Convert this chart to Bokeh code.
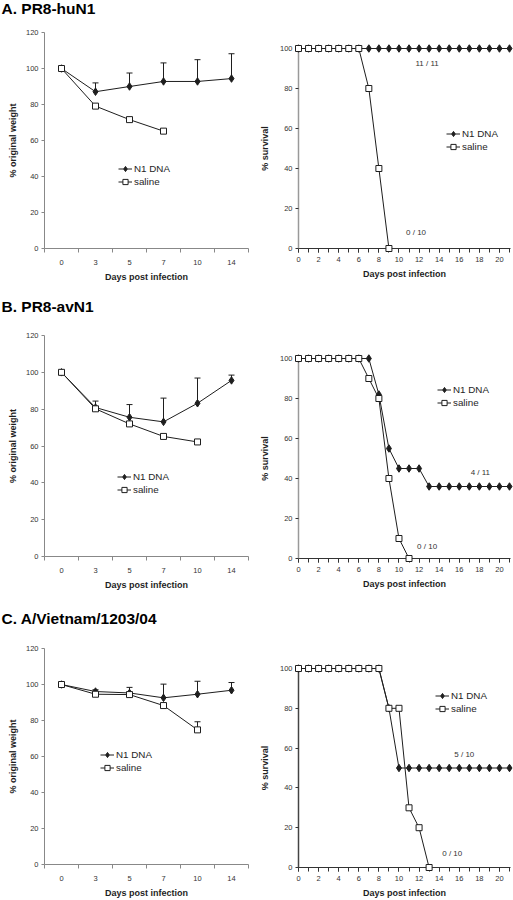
import math
from bokeh.plotting import figure
from bokeh.models import (Range1d, FixedTicker, Whisker, ColumnDataSource, Label,
                          Legend, LegendItem, TeeHead)
from bokeh.core.properties import value
from bokeh.layouts import column, row
from bokeh.embed import file_html
from bokeh.resources import INLINE

NAN = float("nan")

# ------------------------------------------------------------------ data
weight_days = ["0", "3", "5", "7", "10", "14"]
weight_yticks = [0, 20, 40, 60, 80, 100, 120]
survival_days = [0, 1, 2, 3, 4, 5, 6, 7, 8, 9, 10, 11, 12, 13, 14, 15, 16, 17, 18, 19, 20, 21]
survival_xticks = [0, 2, 4, 6, 8, 10, 12, 14, 16, 18, 20]
survival_yticks = [0, 20, 40, 60, 80, 100]
series_names = ["N1 DNA", "saline"]

titles = ["A. PR8-huN1", "B. PR8-avN1", "C. A/Vietnam/1203/04"]

# Panel A
a_n1_weight = [100, 87.1, 90.0, 92.8, 92.8, 94.4]
a_n1_sd = [NAN, 4.9, 7.5, 10.3, 12.1, 13.8]
a_sal_weight = [100, 79.1, 71.6, 65.2]
a_sal_sd = [NAN, NAN, NAN, NAN]
a_n1_surv = [100, 100, 100, 100, 100, 100, 100, 100, 100, 100, 100, 100, 100, 100, 100, 100, 100, 100, 100, 100, 100, 100]
a_sal_surv = [100, 100, 100, 100, 100, 100, 100, 80, 40, 0]
a_counts = ["11 / 11", "0 / 10"]

# Panel B
b_n1_weight = [100, 80.9, 75.6, 73.1, 83.2, 95.6]
b_n1_sd = [NAN, 3.5, 6.9, 12.9, 13.7, 2.9]
b_sal_weight = [100, 80.2, 72.0, 65.2, 62.2]
b_sal_sd = [NAN, NAN, NAN, NAN, NAN]
b_n1_surv = [100, 100, 100, 100, 100, 100, 100, 100, 82, 55, 45, 45, 45, 36, 36, 36, 36, 36, 36, 36, 36, 36]
b_sal_surv = [100, 100, 100, 100, 100, 100, 100, 90, 80, 40, 10, 0]
b_counts = ["4 / 11", "0 / 10"]

# Panel C
c_n1_weight = [100, 96.1, 95.3, 92.6, 94.6, 96.8]
c_n1_sd = [NAN, 1.0, 3.1, 7.6, 7.2, 4.3]
c_sal_weight = [100, 94.6, 94.4, 88.3, 74.8]
c_sal_sd = [NAN, NAN, NAN, NAN, 4.5]
c_n1_surv = [100, 100, 100, 100, 100, 100, 100, 100, 100, 80, 50, 50, 50, 50, 50, 50, 50, 50, 50, 50, 50, 50]
c_sal_surv = [100, 100, 100, 100, 100, 100, 100, 100, 100, 80, 80, 30, 20, 0]
c_counts = ["5 / 10", "0 / 10"]

# ------------------------------------------------------------------ style
FONT = "Liberation Sans"
INK = "#1e1e1e"
TICK_FS = "7.5px"
AXLAB_FS = "9px"
LEG_FS = "9.8px"
TITLE_FS = "15.5px"
COUNT_FS = "8px"


def make_fig(g, xr, yr):
    p = figure(width=g["W"], height=g["H"], x_range=xr, y_range=yr,
               output_backend="svg", toolbar_location=None,
               min_border_left=g["fl"], min_border_right=g["fr"],
               min_border_top=g["ft"], min_border_bottom=g["fb"])
    p.title.visible = False
    p.xgrid.visible = False
    p.ygrid.visible = False
    p.outline_line_color = None
    p.background_fill_color = "white"
    p.border_fill_color = "white"
    for ax in (p.xaxis[0], p.yaxis[0]):
        ax.major_label_text_font = FONT
        ax.major_label_text_font_size = TICK_FS
        ax.major_label_text_color = "#333333"
        ax.axis_label_text_font = FONT
        ax.axis_label_text_font_size = AXLAB_FS
        ax.axis_label_text_font_style = "bold"
        ax.axis_label_text_color = INK
        ax.axis_line_width = 1
    return p


def add_title(p, g, xr, yr, text, tc, tl=1.0):
    fw = g["W"] - g["fl"] - g["fr"]
    fh = g["H"] - g["ft"] - g["fb"]
    x = xr.start + (tl - g["fl"]) * (xr.end - xr.start) / fw
    y = yr.end + (g["ft"] - tc) * (yr.end - yr.start) / fh
    p.text(x=[x], y=[y], text=[text], text_font=value(FONT), text_font_size=TITLE_FS,
           text_font_style="bold", text_color="black", text_align="left",
           text_baseline="middle", level="overlay")


def add_legend(p, items, loc):
    leg = Legend(items=items, location=loc, padding=0, margin=0, spacing=0,
                 glyph_width=14, glyph_height=13, label_height=13, label_standoff=2,
                 label_text_font=FONT, label_text_font_size=LEG_FS,
                 label_text_color=INK, border_line_color=None,
                 background_fill_alpha=0)
    p.add_layout(leg)


def weight_panel(g, title, tc, n1, n1_sd, sal, sal_sd, leg_loc, axis_color):
    xr = Range1d(0, len(weight_days))
    yr = Range1d(0, 120)
    p = make_fig(g, xr, yr)
    centers = [i + 0.5 for i in range(len(weight_days))]
    xa = p.xaxis[0]
    xa.ticker = FixedTicker(ticks=centers, minor_ticks=list(range(len(weight_days) + 1)))
    xa.major_label_overrides = {c: d for c, d in zip(centers, weight_days)}
    xa.major_tick_in = 0
    xa.major_tick_out = 0
    xa.minor_tick_in = 0
    xa.minor_tick_out = 4
    xa.minor_tick_line_color = axis_color
    xa.axis_line_color = axis_color
    xa.major_label_standoff = 7
    xa.axis_label_standoff = 4
    xa.axis_label = "Days post infection"
    ya = p.yaxis[0]
    ya.ticker = FixedTicker(ticks=weight_yticks, minor_ticks=[])
    ya.major_tick_in = 0
    ya.major_tick_out = 3
    ya.minor_tick_out = 0
    ya.major_tick_line_color = axis_color
    ya.axis_line_color = axis_color
    ya.major_label_standoff = 3
    ya.axis_label_standoff = 5
    ya.axis_label = "% original weight"

    # error bars (upper only)
    for vals, sds in ((n1, n1_sd), (sal, sal_sd)):
        bx, lo, up = [], [], []
        for i, (v, s) in enumerate(zip(vals, sds)):
            if not math.isnan(s):
                bx.append(centers[i]); lo.append(v); up.append(v + s)
        if bx:
            src = ColumnDataSource(dict(x=bx, lower=lo, upper=up))
            p.add_layout(Whisker(source=src, base="x", lower="lower", upper="upper",
                                 dimension="height", line_color=INK, line_width=1,
                                 upper_head=TeeHead(size=6, line_color=INK, line_width=1),
                                 lower_head=None))

    xn = centers[:len(n1)]
    xs = centers[:len(sal)]
    l1 = p.line(xn, n1, line_color=INK, line_width=1, level="overlay")
    s1 = p.scatter(xn, n1, marker="diamond", size=7.5, fill_color=INK, line_color=INK,
                   level="overlay")
    l2 = p.line(xs, sal, line_color=INK, line_width=1, level="overlay")
    s2 = p.scatter(xs, sal, marker="square", size=6, fill_color="white", line_color=INK,
                   line_width=1, level="overlay")
    add_legend(p, [LegendItem(label=series_names[0], renderers=[l1, s1]),
                   LegendItem(label=series_names[1], renderers=[l2, s2])], leg_loc)
    add_title(p, g, xr, yr, title, tc)
    return p


def survival_panel(g, n1, sal, counts, count_pos, leg_loc, ycolor):
    xr = Range1d(0, 21.1)
    yr = Range1d(0, 100)
    p = make_fig(g, xr, yr)
    xa = p.xaxis[0]
    xa.ticker = FixedTicker(ticks=survival_xticks, minor_ticks=survival_days)
    xa.major_tick_in = 0
    xa.major_tick_out = 4
    xa.minor_tick_in = 0
    xa.minor_tick_out = 4
    xa.axis_line_color = "#333333"
    xa.major_tick_line_color = "#333333"
    xa.minor_tick_line_color = "#333333"
    xa.major_label_standoff = 4
    xa.axis_label_standoff = 4
    xa.axis_label = "Days post infection"
    ya = p.yaxis[0]
    ya.ticker = FixedTicker(ticks=survival_yticks, minor_ticks=[])
    ya.major_tick_in = 0
    ya.major_tick_out = 3
    ya.minor_tick_out = 0
    ya.axis_line_color = ycolor
    ya.axis_line_width = 1.5
    ya.major_tick_line_color = "#333333"
    ya.major_label_standoff = 3
    ya.axis_label_standoff = 7
    ya.axis_label = "% survival"

    dn = survival_days[:len(n1)]
    ds = survival_days[:len(sal)]
    l1 = p.line(dn, n1, line_color=INK, line_width=1, level="overlay")
    s1 = p.scatter(dn, n1, marker="diamond", size=7.5, fill_color=INK, line_color=INK,
                   level="overlay")
    l2 = p.line(ds, sal, line_color=INK, line_width=1, level="overlay")
    s2 = p.scatter(ds, sal, marker="square", size=6, fill_color="white", line_color=INK,
                   line_width=1, level="overlay")
    add_legend(p, [LegendItem(label=series_names[0], renderers=[l1, s1]),
                   LegendItem(label=series_names[1], renderers=[l2, s2])], leg_loc)
    for txt, (cx, cy) in zip(counts, count_pos):
        p.add_layout(Label(x=cx, y=cy, text=txt, text_font=FONT, text_font_size=COUNT_FS,
                           text_color="#333333", text_align="center", text_baseline="middle"))
    return p


# geometry (pixels)
gA_w = dict(W=256, H=284, fl=44, fr=8, ft=32, fb=34)
gB_w = dict(W=256, H=308, fl=44, fr=8, ft=51, fb=32)
gC_w = dict(W=256, H=308, fl=44, fr=8, ft=56, fb=33)
gA_s = dict(W=257, H=284, fl=41, fr=3, ft=48, fb=36)
gB_s = dict(W=257, H=308, fl=41, fr=3, ft=74, fb=34)
gC_s = dict(W=257, H=308, fl=41, fr=3, ft=76, fb=33)

pA_w = weight_panel(gA_w, titles[0], 7.5, a_n1_weight, a_n1_sd, a_sal_weight, a_sal_sd,
                    (74, 60), "#888888")
pB_w = weight_panel(gB_w, titles[1], 21.5, b_n1_weight, b_n1_sd, b_sal_weight, b_sal_sd,
                    (73, 60), "#888888")
pC_w = weight_panel(gC_w, titles[2], 25.5, c_n1_weight, c_n1_sd, c_sal_weight, c_sal_sd,
                    (56, 90), "#888888")
pA_s = survival_panel(gA_s, a_n1_surv, a_sal_surv, a_counts,
                      [(12.8, 92.6), (11.7, 8.2)], (148, 95), "#999999")
pB_s = survival_panel(gB_s, b_n1_surv, b_sal_surv, b_counts,
                      [(18.1, 43), (12.8, 6)], (139, 149), "#999999")
pC_s = survival_panel(gC_s, c_n1_surv, c_sal_surv, c_counts,
                      [(16.5, 56.8), (15.3, 7)], (137, 152), "#444444")

layout = row(column(pA_w, pB_w, pC_w), column(pA_s, pB_s, pC_s))

open("out.html", "w").write(file_html(layout, INLINE))
